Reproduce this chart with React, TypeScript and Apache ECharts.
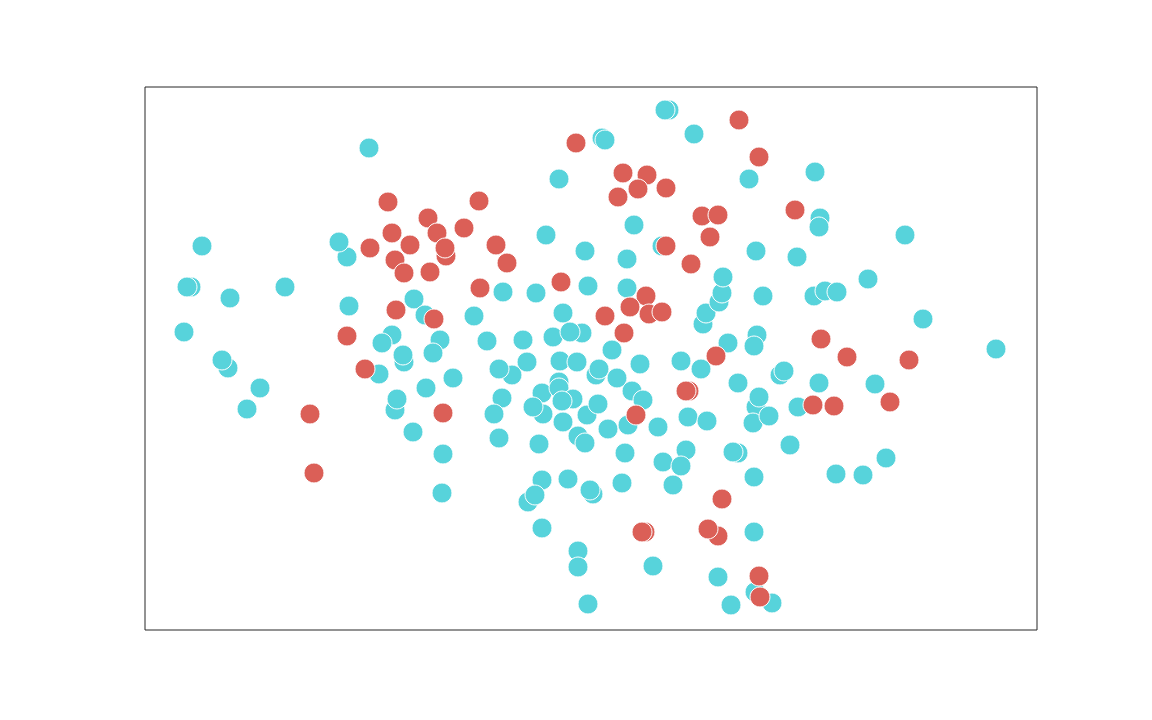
import React, { useEffect, useRef } from "react";
import * as echarts from "echarts";

// Data values (x, y)
const redX = [243, 247, 283, 292, 301, 300, 225, 265, 250, 259, 285, 251, 289, 202, 220, 334, 319, 351, 362, 335, 431, 594, 478, 502, 473, 493, 521, 557, 573, 565, 521, 546, 416, 501, 485, 504, 517, 460, 479, 571, 614, 650, 676, 702, 764, 668, 689, 745, 614, 615, 544, 541, 491, 298, 577, 500, 497, 573, 563, 165, 169];
const redY = [428, 397, 412, 397, 374, 382, 382, 385, 370, 357, 358, 320, 311, 294, 261, 429, 402, 385, 367, 342, 487, 510, 457, 455, 433, 441, 442, 414, 415, 393, 384, 366, 348, 334, 323, 316, 318, 314, 297, 274, 473, 420, 291, 273, 270, 225, 224, 228, 54, 33, 239, 239, 215, 217, 131, 98, 98, 94, 101, 216, 157];

const cyanX = [224, 57, 46, 42, 85, 140, 39, 83, 77, 115, 102, 202, 194, 204, 269, 280, 247, 237, 295, 288, 259, 258, 234, 308, 281, 250, 252, 268, 298, 297, 329, 342, 358, 391, 401, 414, 440, 482, 489, 457, 460, 524, 520, 549, 517, 443, 482, 418, 408, 437, 425, 467, 378, 367, 354, 382, 415, 432, 451, 454, 472, 495, 487, 498, 357, 349, 354, 397, 414, 414, 428, 417, 398, 388, 418, 442, 453, 463, 433, 440, 394, 483, 480, 513, 543, 562, 536, 556, 541, 518, 536, 528, 477, 423, 397, 383, 390, 448, 445, 397, 433, 433, 443, 508, 573, 586, 610, 627, 609, 609, 593, 588, 645, 691, 718, 741, 653, 611, 608, 624, 614, 593, 635, 639, 674, 730, 583, 612, 609, 558, 561, 574, 577, 578, 618, 611, 604, 670, 675, 674, 652, 723, 760, 669, 680, 692, 778, 851];
const cyanY = [482, 384, 343, 343, 332, 343, 298, 262, 270, 242, 221, 373, 388, 324, 331, 315, 295, 287, 290, 277, 268, 275, 256, 252, 242, 220, 231, 198, 176, 137, 314, 289, 338, 337, 395, 451, 379, 371, 405, 492, 490, 520, 520, 496, 384, 344, 342, 317, 293, 297, 298, 280, 290, 255, 261, 268, 269, 268, 255, 261, 252, 266, 239, 230, 232, 216, 192, 237, 248, 242, 231, 229, 216, 223, 208, 215, 226, 201, 194, 187, 186, 205, 177, 203, 213, 209, 269, 261, 180, 168, 164, 145, 147, 151, 150, 128, 135, 136, 140, 102, 79, 63, 26, 64, 53, 25, 38, 27, 98, 153, 177, 178, 185, 156, 155, 172, 223, 223, 207, 214, 233, 247, 255, 259, 247, 246, 287, 295, 284, 306, 317, 328, 337, 353, 334, 379, 451, 458, 412, 403, 373, 351, 395, 334, 339, 338, 311, 281];

const xMin = 0;
const xMax = 892;
const yMin = 0;
const yMax = 543;

const RED = "#db5f57";
const CYAN = "#57d3db";

const zip = (xs: number[], ys: number[]) => xs.map((x, i) => [x, ys[i]]);

export default function App() {
  const ref = useRef<HTMLDivElement>(null);
  useEffect(() => {
    document.body.style.margin = "0";
    const chart = echarts.init(ref.current!, undefined, { renderer: "svg" });
    chart.setOption({
      animation: false,
      backgroundColor: "#ffffff",
      grid: {
        left: 145,
        top: 87,
        right: 115,
        bottom: 90,
        show: true,
        borderColor: "#262626",
        borderWidth: 1,
        backgroundColor: "transparent",
      },
      xAxis: { type: "value", min: xMin, max: xMax, show: false },
      yAxis: { type: "value", min: yMin, max: yMax, show: false },
      series: [
        {
          type: "scatter",
          data: zip(cyanX, cyanY),
          symbolSize: 20,
          itemStyle: { color: CYAN, borderColor: "#ffffff", borderWidth: 1, opacity: 1 },
        },
        {
          type: "scatter",
          data: zip(redX, redY),
          symbolSize: 20,
          itemStyle: { color: RED, borderColor: "#ffffff", borderWidth: 1, opacity: 1 },
        },
      ],
    });
    return () => chart.dispose();
  }, []);
  return (
    <div
      ref={ref}
      style={{ position: "fixed", left: 0, top: 0, width: 1152, height: 720 }}
    />
  );
}
